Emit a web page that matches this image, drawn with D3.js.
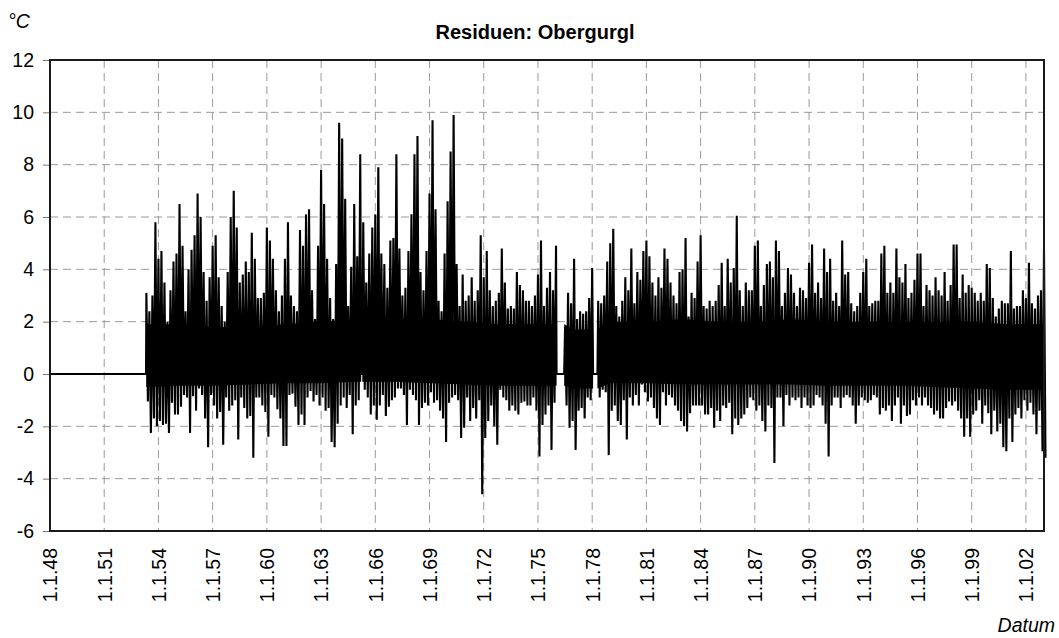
<!DOCTYPE html>
<html><head><meta charset="utf-8">
<script src="https://cdn.jsdelivr.net/npm/d3@7"></script>
<style>
body{margin:0;background:#fff}
text{font-family:Arial,"Liberation Sans",sans-serif}
</style>
</head><body>
<svg id="chart" width="1059" height="638"></svg>
<script>
// ---------------- data ----------------
const title = "Residuen: Obergurgl";
const yLabel = "°C";
const xLabel = "Datum";
const xTickYears = d3.range(1948, 2003, 3);          // 1.1.48 ... 1.1.02
const yTicks = [-6, -4, -2, 0, 2, 4, 6, 8, 10, 12];
const dataStart = 1953.333;                           // first measured value
const sampleStep = 1 / 6;                             // envelope read every 2 months
// gaps (no data, drawn at 0)
const gaps = [[1965.22, 1965.28], [1976.03, 1976.45], [1978.05, 1978.29]];

// upper envelope (max residual per sample window), °C
const hi1953 = [3.1,2.4,3.0,5.8,4.4,4.7,3.5,2.0,3.2,4.3,4.6,6.5,4.9,2.4,4.0,4.75,5.3,6.9,6.0,3.9,
  2.8,3.7,4.9,5.3,3.7,2.6,2.0,3.9,6.0,7.0,5.6,3.5,3.8,4.3,3.9,5.4,4.4,2.9,2.9,3.1,
  5.6,5.1,4.4,3.2,2.4,3.0,4.4,5.8,3.0,2.6,2.4,5.5,4.9,6.1,6.3,3.2,2.1,4.9,7.8,6.5];
const hi1963 = [4.4,2.9,2.1,4.2,9.6,9.0,6.7,2.6,4.1,6.5,4.5,8.4,5.8,3.5,4.6,5.6,6.1,7.9,4.6,4.2,
  3.3,5.1,5.2,8.4,4.8,3.0,3.3,4.7,6.1,8.4,9.1,3.9,3.2,4.7,6.9,9.7,6.3,2.8,2.4,4.6,
  6.6,8.5,9.9,4.2,2.6,3.8,2.8,3.0,3.7,2.8,3.2,5.3,3.7,4.7,3.2,2.6,2.8,3.1,4.8,3.5];
const hi1973 = [2.5,2.6,2.5,3.9,3.4,3.2,2.8,2.8,2.6,3.0,3.8,5.1,2.6,3.3,3.9,3.2,4.9,0,0,1.8,
  3.1,2.7,4.4,2.1,2.4,2.3,2.4,2.9,4.05,0,2.8,2.7,3.0,4.3,5.0,5.55,2.6,2.2,2.8,3.7,
  3.2,4.8,2.7,3.9,3.6,4.7,5.1,4.5,3.5,3.0,3.7,3.3,4.8,4.4,3.5,3.0,2.7,3.9,4.0,5.2];
const hi1983 = [2.2,3.1,2.9,4.3,5.3,2.6,2.5,2.8,2.6,2.8,3.4,4.25,2.6,4.4,3.5,4.05,6.05,3.2,2.6,3.5,
  3.2,3.2,4.9,5.1,2.6,3.4,4.2,4.3,3.7,5.1,4.7,2.6,3.1,4.05,3.8,3.1,2.6,3.3,3.2,2.9,
  4.25,4.95,3.1,3.5,2.9,4.8,3.9,4.4,2.8,3.1,2.6,5.1,3.8,3.9,2.7,2.4,2.6,3.1,3.9,4.4];
const hi1993 = [2.6,2.7,2.8,2.8,4.6,4.9,3.1,3.5,3.1,4.8,3.7,3.5,4.2,2.9,3.1,3.6,4.6,4.6,2.6,3.4,
  3.2,3.0,3.7,3.2,3.0,3.9,2.8,3.4,4.95,4.95,2.9,3.8,3.1,3.4,3.3,3.1,2.8,3.1,2.8,4.2,
  4.05,2.9,2.2,2.5,2.8,2.7,2.7,4.7,2.5,2.6,2.6,3.2,2.9,4.25,2.7,2.5,3.0,3.2,4.8];

// lower envelope (min residual per sample window), °C
const lo1953 = [-1.05,-2.25,-1.7,-2.0,-1.8,-1.95,-1.9,-2.25,-1.1,-1.55,-1.55,-1.25,-0.8,-0.9,-2.25,-0.85,-1.4,-0.55,-0.8,-1.7,
  -2.8,-0.8,-1.2,-1.7,-1.45,-2.7,-0.9,-1.4,-1.2,-1.0,-2.5,-0.9,-1.3,-1.7,-1.6,-3.2,-0.9,-0.9,-1.2,-1.45,
  -2.4,-0.8,-0.9,-1.35,-1.7,-2.75,-2.75,-0.8,-0.75,-1.25,-1.95,-1.55,-1.95,-0.9,-0.65,-1.05,-0.8,-1.2,-0.9,-1.4];
const lo1963 = [-1.3,-2.6,-2.8,-1.9,-1.2,-0.9,-1.3,-0.8,-2.3,-1.2,-1.0,-1.55,-0.6,-0.9,-1.55,-1.2,-1.75,-1.2,-0.8,-1.6,
  -1.25,-1.0,-0.9,-0.55,-0.55,-0.8,-1.95,-0.6,-0.8,-1.0,-1.95,-1.3,-1.1,-1.2,-0.7,-1.1,-1.0,-1.4,-1.7,-2.6,
  -1.1,-0.9,-0.8,-1.0,-2.45,-2.05,-0.9,-1.8,-1.3,-1.7,-1.0,-4.6,-2.45,-1.8,-1.2,-2.0,-2.7,-0.6,-0.9,-1.0];
const lo1973 = [-1.4,-1.2,-1.4,-1.55,-1.1,-1.05,-1.2,-1.2,-0.9,-1.4,-3.15,-1.95,-1.55,-1.2,-2.9,-1.1,-1.7,0,0,-1.2,
  -2.05,-1.8,-2.9,-1.4,-1.3,-1.7,-0.9,-1.0,-1.1,0,-0.9,-0.6,-0.7,-3.1,-1.4,-1.2,-1.8,-1.95,-1.0,-2.5,
  -0.9,-1.2,-0.8,-1.2,-0.4,-0.7,-1.05,-0.9,-1.3,-1.7,-1.95,-0.7,-1.2,-0.8,-0.9,-1.2,-1.4,-1.8,-2.0,-2.2];
const lo1983 = [-1.5,-1.2,-1.2,-1.2,-1.2,-1.55,-1.55,-1.3,-2.05,-1.4,-1.8,-1.2,-1.3,-1.1,-2.3,-1.7,-1.95,-1.7,-1.55,-1.3,
  -0.9,-1.0,-1.4,-1.2,-1.8,-2.2,-1.2,-1.3,-3.4,-0.9,-0.9,-2.0,-0.8,-1.2,-0.9,-1.0,-0.9,-1.3,-0.9,-1.2,
  -1.3,-1.2,-0.8,-0.9,-1.2,-1.9,-3.15,-1.2,-0.9,-0.9,-1.3,-0.9,-0.8,-0.9,-1.2,-1.9,-1.2,-0.9,-1.0,-1.1];
const lo1993 = [-1.0,-0.8,-0.9,-1.55,-1.3,-1.4,-1.2,-1.8,-1.2,-0.9,-1.9,-1.2,-1.6,-1.55,-1.0,-1.2,-0.9,-1.2,-0.9,-1.2,
  -1.3,-1.55,-1.4,-1.7,-1.7,-1.3,-1.05,-1.2,-1.05,-1.4,-1.7,-2.4,-1.7,-2.4,-1.55,-1.4,-1.0,-1.9,-1.2,-1.5,
  -2.3,-1.4,-2.2,-1.9,-2.8,-2.95,-1.7,-2.6,-1.55,-1.3,-1.7,-1.0,-1.4,-1.1,-1.55,-2.3,-1.4,-2.95,-3.2];

// dense core of the series (where the daily trace is solid black), every 2 years, °C
const coreYears  = [1953.33,1955,1957,1959,1961,1963,1965,1967,1969,1971,1973,1975,1977,1979,1981,1983,1985,1987,1989,1991,1993,1995,1997,1999,2001,2003];
const coreTop    = [1.9,1.9,1.8,1.8,1.9,2.0,2.1,2.1,2.1,2.0,1.9,1.9,1.7,2.0,2.0,2.1,2.0,2.0,2.1,2.0,2.0,2.0,2.0,2.0,1.9,1.9];
const coreBottom = [-0.5,-0.45,-0.45,-0.4,-0.35,-0.35,-0.3,-0.3,-0.35,-0.4,-0.45,-0.45,-0.55,-0.35,-0.35,-0.4,-0.4,-0.4,-0.4,-0.45,-0.45,-0.45,-0.5,-0.55,-0.6,-0.6];

// ---------------- drawing ----------------
const hiVals = [].concat(hi1953, hi1963, hi1973, hi1983, hi1993);
const loVals = [].concat(lo1953, lo1963, lo1973, lo1983, lo1993);

const svg = d3.select("#chart");
const plotL = 50, plotR = 1044, plotT = 60, plotB = 531;
const x = d3.scaleLinear().domain([1948, 2003]).range([plotL, plotR]);
const y = d3.scaleLinear().domain([-6, 12]).range([plotB, plotT]);

const gridColor = "#9a9a9a";
// grid
svg.append("g").selectAll("line").data(yTicks.filter(v => v > -6 && v < 12)).join("line")
  .attr("x1", plotL).attr("x2", plotR).attr("y1", d => y(d)).attr("y2", d => y(d))
  .attr("stroke", gridColor).attr("stroke-width", 1).attr("stroke-dasharray", "8,5");
svg.append("g").selectAll("line").data(xTickYears.filter(v => v > 1948)).join("line")
  .attr("x1", d => x(d)).attr("x2", d => x(d)).attr("y1", plotT).attr("y2", plotB)
  .attr("stroke", gridColor).attr("stroke-width", 1).attr("stroke-dasharray", "8,5");

const inGap = t => gaps.some(g => t > g[0] && t < g[1]);

// core band, split at the gaps
let corePts = coreYears.map((t, i) => ({t, top: coreTop[i], bot: coreBottom[i], gap: false}));
gaps.forEach(g => {
  const ti = d3.bisector(d => d.t).left(corePts, g[0]);
  const a = corePts[Math.max(ti - 1, 0)];
  corePts.push({t: g[0], top: a.top, bot: a.bot, gap: false});
  corePts.push({t: (g[0] + g[1]) / 2, top: 0, bot: 0, gap: true});
  corePts.push({t: g[1], top: a.top, bot: a.bot, gap: false});
});
corePts = corePts.filter(d => d.gap || !inGap(d.t)).sort((a, b) => a.t - b.t);
const coreArea = d3.area().defined(d => !d.gap)
  .x(d => x(d.t)).y0(d => y(d.bot)).y1(d => y(d.top));
svg.append("path").datum(corePts).attr("d", coreArea).attr("fill", "#000");

// series points: max at sample time, min half a step later
let pts = [];
hiVals.forEach((h, i) => {
  const t = dataStart + i * sampleStep;
  pts.push([t, h]);
  pts.push([t + sampleStep / 2, loVals[i]]);
});
pts = pts.filter(p => !inGap(p[0]));
gaps.forEach(g => { pts.push([g[0], 0]); pts.push([g[1], 0]); });
pts.push([1948, 0]); pts.push([dataStart - 0.02, 0]);
pts.sort((a, b) => a[0] - b[0]);

const line = d3.line().x(d => x(d[0])).y(d => y(d[1]));
svg.append("path").datum(pts).attr("d", line)
  .attr("fill", "none").attr("stroke", "#000").attr("stroke-width", 2.1)
  .attr("stroke-linejoin", "bevel");

// y axis
const yAxis = svg.append("g").attr("transform", `translate(${plotL},0)`)
  .call(d3.axisLeft(y).tickValues(yTicks).tickSize(7).tickPadding(9).tickFormat(d => String(d)));
yAxis.select(".domain").remove();
yAxis.selectAll("line").attr("stroke", "#777");
yAxis.selectAll("text").attr("font-size", "19.5px").attr("fill", "#000")
  .style("font-family", "Arial, 'Liberation Sans', sans-serif");

// x axis
const xAxis = svg.append("g").attr("transform", `translate(0,${plotB})`)
  .call(d3.axisBottom(x).tickValues(xTickYears).tickSize(0)
    .tickFormat(d => "1.1." + String(d % 100).padStart(2, "0")));
xAxis.select(".domain").remove();
xAxis.selectAll("text").attr("transform", "rotate(-90)").attr("text-anchor", "end")
  .attr("x", -17).attr("y", 0).attr("dy", "0.35em").attr("font-size", "19.5px").attr("fill", "#000")
  .style("font-family", "Arial, 'Liberation Sans', sans-serif");

// frame
svg.append("rect").attr("x", plotL).attr("y", plotT).attr("width", plotR - plotL).attr("height", plotB - plotT)
  .attr("fill", "none").attr("stroke", "#1a1a1a").attr("stroke-width", 2);

// texts
svg.append("text").attr("x", 535).attr("y", 39).attr("text-anchor", "middle")
  .attr("font-size", "20px").attr("font-weight", "bold").text(title);
svg.append("text").attr("x", 8).attr("y", 28).attr("font-size", "19.5px")
  .attr("font-style", "italic").text(yLabel);
svg.append("text").attr("x", 1055).attr("y", 632).attr("text-anchor", "end").attr("font-size", "19.5px")
  .attr("font-style", "italic").text(xLabel);
</script>
</body></html>
